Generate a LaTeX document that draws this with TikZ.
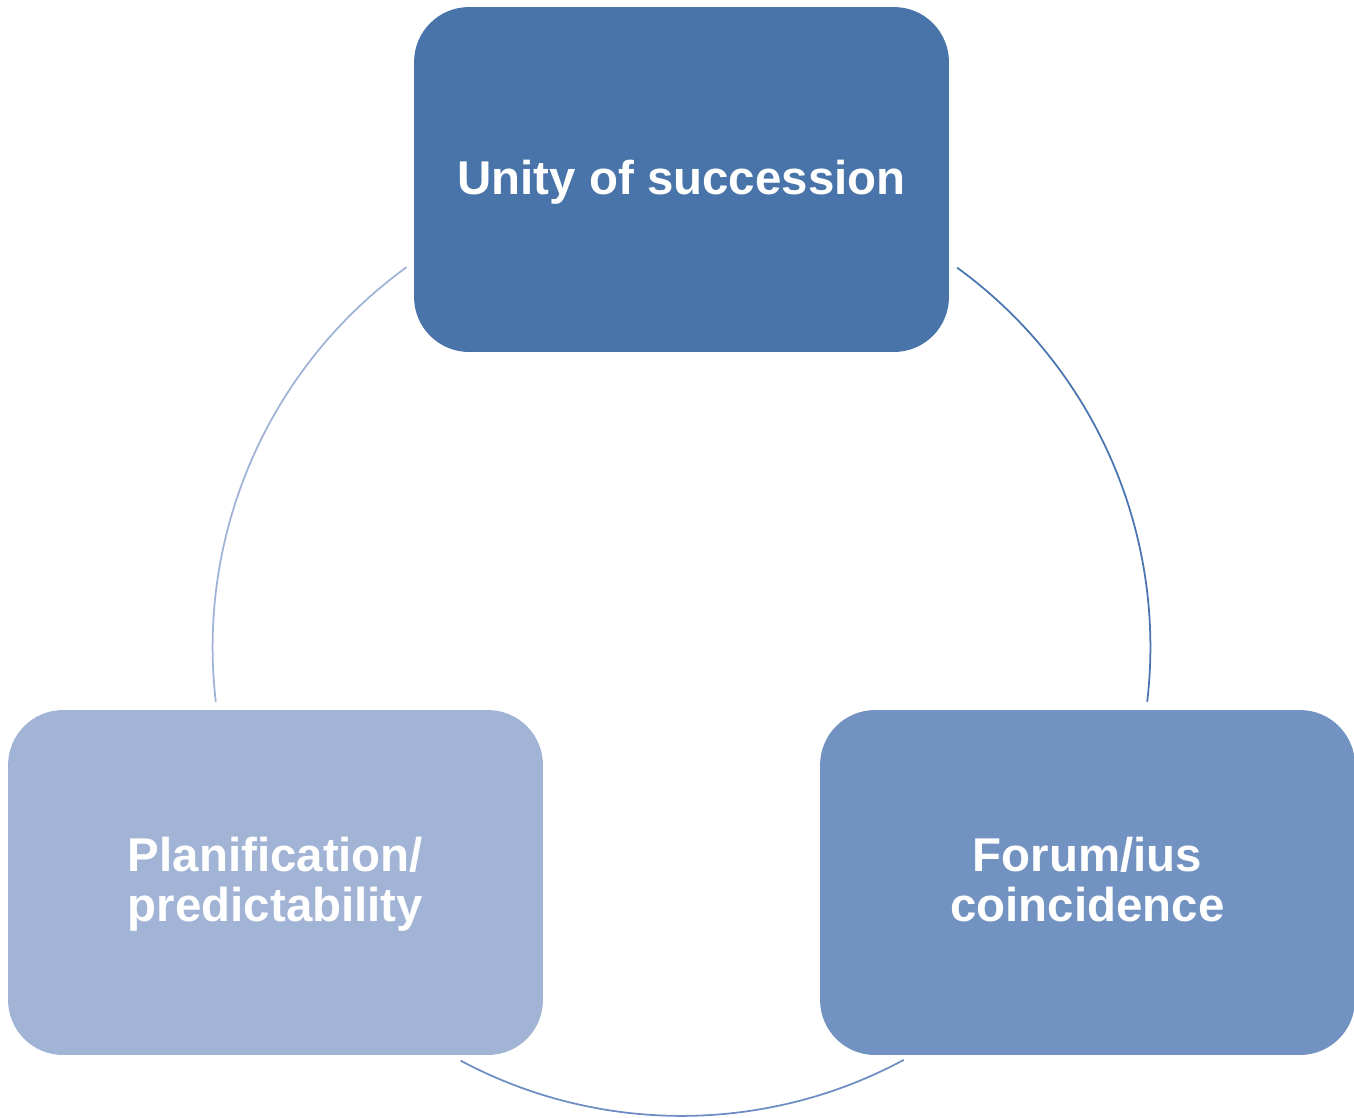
\documentclass[tikz,border=0pt]{standalone}
\usepackage{fontspec}
\setmainfont{Liberation Sans}
\usetikzlibrary{calc}
\definecolor{topc}{HTML}{4874AA}
\definecolor{rightc}{HTML}{7293C1}
\definecolor{leftc}{HTML}{A2B4D5}
\definecolor{arcL}{HTML}{A0B3D6}
\definecolor{arcR}{HTML}{4A75B0}
\definecolor{arcB}{HTML}{6E8DC4}
\tikzset{
  box/.style={draw=none, rounded corners=1.1cm, minimum width=10.7cm, minimum height=6.9cm, inner sep=0pt},
  lbl/.style={text=white, align=center, font=\fontsize{27}{27}\selectfont\bfseries, inner sep=0pt},
  ring/.style={line width=1pt}
}
\begin{document}
\begin{tikzpicture}[x=0.02cm,y=-0.02cm]
\useasboundingbox (0,0) rectangle (1354,1117);
\node[box, fill=topc] (top) at (681.5,179.5) {};
\node[box, fill=rightc] (right) at (1087.5,882.5) {};
\node[box, fill=leftc] (left) at (275.5,882.5) {};
\node[lbl] (topt) at ($(top.center)+(0,5)$) {\strut Unity of succession};
\node[lbl] (rightt) at ($(right.center)+(0,4)$) {\strut Forum/ius\\\strut coincidence};
\node[lbl] (leftt) at ($(left.center)+(0,4)$) {\strut Planification/\\\strut predictability};
\coordinate (ctr) at (681.5,647);
\coordinate (aR) at ($(ctr)+(54:9.38cm)$);
\coordinate (aB) at ($(ctr)+(-61.7:9.38cm)$);
\coordinate (aL) at ($(ctr)+(186.7:9.38cm)$);
\draw[ring, arcR] (aR) arc[start angle=54, end angle=-6.7, radius=9.38cm];
\draw[ring, arcB] (aB) arc[start angle=-61.7, end angle=-118.1, radius=9.38cm];
\draw[ring, arcL] (aL) arc[start angle=186.7, end angle=125.9, radius=9.38cm];
\end{tikzpicture}
\end{document}
